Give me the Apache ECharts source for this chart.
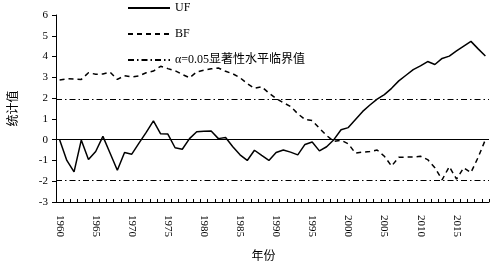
<!DOCTYPE html>
<html>
<head>
<meta charset="utf-8">
<script src="https://cdn.jsdelivr.net/npm/echarts@6/dist/echarts.min.js"></script>
<style>html,body{margin:0;padding:0;background:#fff}#c{width:492px;height:268px}</style>
</head>
<body>
<div id="c"></div>
<script>
var years = [];
for (var y = 1960; y <= 2019; y++) years.push(String(y));
var uf = [0, -1.0, -1.55, -0.02, -0.96, -0.57, 0.16, -0.65, -1.47, -0.62,
          -0.7, -0.17, 0.35, 0.9, 0.28, 0.27, -0.39, -0.46, 0.05, 0.38,
          0.4, 0.42, 0.05, 0.1, -0.34, -0.73, -1.0, -0.51, -0.76, -1.0,
          -0.62, -0.5, -0.6, -0.73, -0.23, -0.11, -0.54, -0.34, 0.0, 0.48,
          0.58, 0.97, 1.36, 1.67, 1.95, 2.17, 2.47, 2.83, 3.1, 3.37,
          3.55, 3.76, 3.62, 3.91, 4.02, 4.27, 4.5, 4.73, 4.37, 4.03];
var bf = [2.87, 2.93, 2.92, 2.9, 3.22, 3.15, 3.16, 3.25, 2.9, 3.08,
          3.02, 3.07, 3.22, 3.3, 3.53, 3.42, 3.32, 3.14, 2.98, 3.26,
          3.34, 3.41, 3.45, 3.29, 3.17, 2.98, 2.7, 2.47, 2.55, 2.24,
          1.98, 1.78, 1.6, 1.25, 0.97, 0.92, 0.55, 0.2, -0.08, -0.03,
          -0.2, -0.65, -0.6, -0.57, -0.5, -0.8, -1.27, -0.85, -0.84, -0.84,
          -0.8, -0.96, -1.35, -1.93, -1.3, -1.9, -1.35, -1.58, -0.85, 0.0];
var critical = 1.96;
var yTicks = { min: -3, max: 6, step: 1 };
var names = { uf: 'UF', bf: 'BF', crit: 'α=0.05显著性水平临界值', x: '年份', y: '统计值' };

var FONT = '"Liberation Serif", "Times New Roman", "Noto Sans CJK SC", serif';
var chart = echarts.init(document.getElementById('c'), null, { renderer: 'canvas' });
chart.setOption({
  animation: false,
  textStyle: { fontFamily: FONT, color: '#000' },
  grid: { left: 52, right: 3, top: 15, bottom: 59, containLabel: false },
  legend: {
    orient: 'vertical', left: 122, top: -3,
    itemWidth: 42, itemHeight: 12, itemGap: 14,
    itemStyle: { opacity: 0 },
    textStyle: { fontFamily: FONT, fontSize: 12, color: '#000' },
    data: [names.uf, names.bf, names.crit]
  },
  xAxis: {
    type: 'category', data: years, boundaryGap: true,
    name: names.x, nameLocation: 'middle', nameGap: 49,
    nameTextStyle: { fontFamily: FONT, fontSize: 12, color: '#000', padding: [0, 18, 0, 0] },
    axisLine: { onZero: false, lineStyle: { color: '#000', width: 1 } },
    axisTick: { show: true, inside: true, length: 3, interval: 0, lineStyle: { color: '#000' } },
    axisLabel: { interval: 4, rotate: -90, fontSize: 11, color: '#000', fontFamily: FONT, margin: 13 },
    splitLine: { show: false }
  },
  yAxis: {
    type: 'value', min: yTicks.min, max: yTicks.max, interval: yTicks.step,
    name: names.y, nameLocation: 'middle', nameGap: 36, nameRotate: 90,
    nameTextStyle: { fontFamily: FONT, fontSize: 12, color: '#000' },
    axisLine: { show: true, lineStyle: { color: '#000', width: 1 } },
    axisTick: { show: true, inside: false, length: 4, lineStyle: { color: '#000' } },
    axisLabel: { fontSize: 11, color: '#000', fontFamily: FONT, margin: 8 },
    splitLine: { show: false }
  },
  series: [
    {
      name: names.uf, type: 'line', data: uf, symbol: 'none',
      lineStyle: { color: '#000', width: 1.5, type: 'solid' },
      itemStyle: { color: '#000' },
      markLine: {
        silent: true, symbol: 'none', label: { show: false },
        lineStyle: { color: '#000', width: 1.2, type: 'solid' },
        data: [{ yAxis: 0 }]
      },
      z: 3
    },
    {
      name: names.bf, type: 'line', data: bf, symbol: 'none',
      lineStyle: { color: '#000', width: 1.5, type: [5, 4] },
      itemStyle: { color: '#000' },
      z: 3
    },
    {
      name: names.crit, type: 'line', data: [], symbol: 'none',
      lineStyle: { color: '#000', width: 1, type: [6, 3, 1.5, 3] },
      itemStyle: { color: '#000' },
      markLine: {
        silent: true, symbol: 'none', label: { show: false },
        lineStyle: { color: '#000', width: 1, type: [6, 3, 1.5, 3] },
        data: [{ yAxis: critical }, { yAxis: -critical }]
      }
    }
  ]
});
</script>
</body>
</html>
